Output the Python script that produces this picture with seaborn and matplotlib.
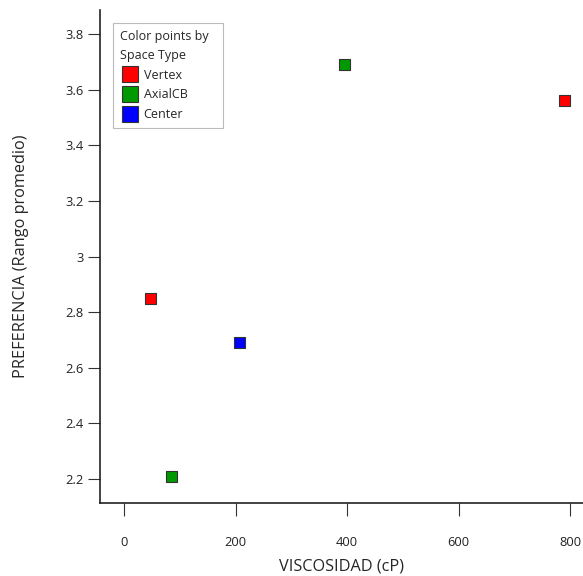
import pandas as pd
import matplotlib
matplotlib.use("Agg")
import matplotlib.pyplot as plt
import seaborn as sns

# data
space_type = ["Vertex", "Vertex", "AxialCB", "AxialCB", "Center"]
viscosidad = [47, 790, 395, 85, 207]
preferencia = [2.85, 3.56, 3.69, 2.21, 2.69]
x_ticks = [0, 200, 400, 600, 800]
y_ticks = [2.2, 2.4, 2.6, 2.8, 3.0, 3.2, 3.4, 3.6, 3.8]
y_tick_labels = ["2.2", "2.4", "2.6", "2.8", "3", "3.2", "3.4", "3.6", "3.8"]

df = pd.DataFrame({"Space Type": space_type, "VISCOSIDAD": viscosidad, "PREFERENCIA": preferencia})

sns.set_theme(style="ticks")
plt.rcParams["font.family"] = ["Open Sans", "DejaVu Sans"]

pal = {"Vertex": "#ff0000", "AxialCB": "#009900", "Center": "#0000ff"}

fig = plt.figure(figsize=(5.83, 5.76), dpi=100)
ax = fig.add_axes([0.1715, 0.1267, 0.8285, 0.8559])

sns.scatterplot(data=df, x="VISCOSIDAD", y="PREFERENCIA", hue="Space Type",
                hue_order=["Vertex", "AxialCB", "Center"], palette=pal,
                marker="s", s=60, edgecolor="#333333", linewidth=0.8, ax=ax)

ax.set_xlim(-43, 823)
ax.set_ylim(2.114, 3.886)
ax.set_xticks(x_ticks)
ax.set_yticks(y_ticks)
ax.set_yticklabels(y_tick_labels)
ax.tick_params(axis="both", length=9, width=0.8, labelsize=9.3, colors="#333333",
               labelcolor="#222222", pad=3)
ax.tick_params(axis="x", pad=15)
ax.set_xlabel("VISCOSIDAD (cP)", fontsize=11.7, va="center")
ax.xaxis.set_label_coords(0.5, -0.128)
ax.set_ylabel("PREFERENCIA (Rango promedio)", fontsize=11.7, labelpad=26)
sns.despine(ax=ax)
for sp in ["left", "bottom"]:
    ax.spines[sp].set_linewidth(1.2)
    ax.spines[sp].set_color("#222222")

leg = ax.legend(title="Color points by\nSpace Type", loc="upper left",
                bbox_to_anchor=(0.027, 0.974, 0.228, 0), mode="expand",
                borderaxespad=0, fontsize=9, title_fontsize=9,
                frameon=True, fancybox=False, edgecolor="#aaaaaa",
                handletextpad=0.3, borderpad=0.55, labelspacing=0.55,
                handlelength=1.6, markerscale=1.5)
leg._legend_box.align = "left"
leg.get_title().set_linespacing(1.6)
leg.get_frame().set_linewidth(0.8)

fig.savefig("out.png", dpi=100)
